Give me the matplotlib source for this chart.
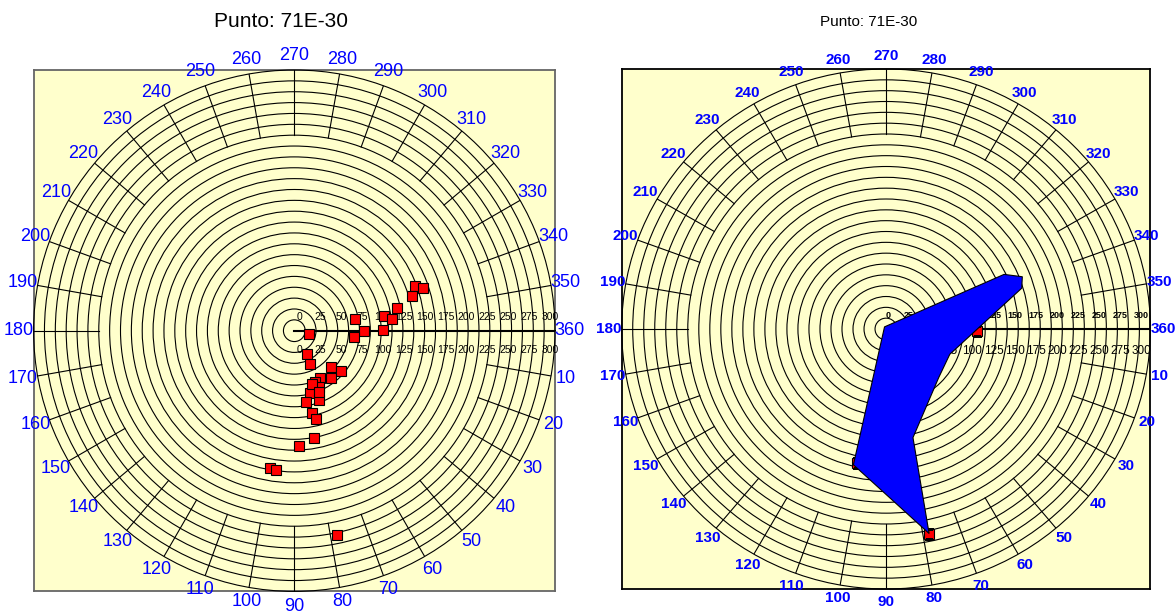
import numpy as np
import matplotlib
matplotlib.use('Agg')
import matplotlib.pyplot as plt

plt.rcParams['font.family'] = ['Liberation Sans', 'DejaVu Sans']

# ---- data ----
title = "Punto: 71E-30"
ring_step = 12.5
r_max = 300
r_ticks = [0, 25, 50, 75, 100, 125, 150, 175, 200, 225, 250, 275, 300]
angle_ticks = list(range(10, 361, 10))

# left chart: measured points (direction in degrees, value)
left_theta = [11.5, 349.4, 0.0, 5.7, 350.6, 353.1, 347.4, 359.7, 339.6, 341.8, 343.6,
              61.2, 64.8, 44.5, 41.3, 61.4, 52.4, 68.3, 66.2, 75.8, 70.2, 80.6,
              77.6, 76.4, 79.6, 87.5, 100.2, 97.3, 78.2, 71.7, 68.0]
left_r = [17, 71, 80, 69, 105, 113, 121, 102, 148, 156, 141,
          30, 42, 59, 71, 62, 69, 64, 71, 74, 85, 83,
          97, 105, 126, 133, 160, 162, 240, 64, 76]

# right chart: envelope polygon and the points left visible under it
poly_theta = [235, 334.8, 338.7, 343, 22, 43.3, 76.3, 78.3, 103.3]
poly_r = [3, 148, 166, 161, 78, 82, 129, 241, 161]
right_pts_theta = [1.3, 102.0, 78.3]
right_pts_r = [103, 158, 241]

yellow = '#FFFFCC'
blue = '#0000FF'

fig = plt.figure(figsize=(11.75, 6.14), dpi=100)
W, H = 1175, 614


def rect(x0, y0, x1, y1):
    return [x0 / W, 1 - y1 / H, (x1 - x0) / W, (y1 - y0) / H]


def make_polar(r, edge, circle=True):
    box = fig.add_axes(r)
    box.set_facecolor(yellow)
    box.set_xticks([])
    box.set_yticks([])
    for s in box.spines.values():
        s.set_color(edge)
        s.set_linewidth(1.3)
    ax = fig.add_axes(r, projection='polar', zorder=2)
    ax.patch.set_alpha(0)
    if not circle:
        ax.set_aspect('auto')
    ax.set_theta_zero_location('E')
    ax.set_theta_direction(-1)
    ax.set_ylim(0, r_max)
    ax.set_xticks([])
    ax.set_yticks(np.arange(ring_step, r_max, ring_step))
    ax.set_yticklabels([])
    ax.tick_params(axis='y', length=0)
    ax.yaxis.grid(True, color='black', linewidth=0.8)
    ax.spines['polar'].set_color('black')
    ax.spines['polar'].set_linewidth(0.8)
    # spokes only on the outer band, full line at 0
    for a in angle_ticks[:-1]:
        ax.plot([np.deg2rad(a)] * 2, [225, r_max], color='black', lw=0.8, zorder=1)
    ax.plot([0, 0], [0, r_max], color='black', lw=1.5, zorder=1)
    return ax


# ---------------- left ----------------
axl = make_polar(rect(33.6, 70, 555, 591.4), '#666666')
for a in angle_ticks:
    axl.text(np.deg2rad(a), 317, str(a), color=blue, fontsize=13,
             ha='center', va='center', clip_on=False)
for r in r_ticks:
    for dy in (14, -19):
        axl.annotate(str(r), xy=(0, r * 0.96 + 6), xytext=(0, dy),
                     textcoords='offset pixels', ha='center', va='center',
                     fontsize=7.5, color='black', zorder=3)
axl.plot(np.deg2rad(left_theta), left_r, 's', ms=7.5, mfc='red', mec='black',
         mew=0.8, zorder=5, clip_on=False)
fig.text(281 / W, 1 - 21.5 / H, title, fontsize=15, ha='center', va='center')

# ---------------- right ----------------
axr = make_polar(rect(621.7, 69, 1150.4, 589), 'black', circle=False)
for a in angle_ticks:
    axr.text(np.deg2rad(a), 315, str(a), color=blue, fontsize=11, fontweight='bold',
             ha='center', va='center', clip_on=False)
for r in r_ticks:
    axr.annotate(str(r), xy=(0, r * 0.96 + 2), xytext=(0, 14),
                 textcoords='offset pixels', ha='center', va='center',
                 fontsize=6.5, fontweight='bold', color='black', zorder=3)
    axr.annotate(str(r), xy=(0, r * 0.96 + 2), xytext=(0, -22),
                 textcoords='offset pixels', ha='center', va='center',
                 fontsize=8.5, color='black', zorder=3)
axr.plot(np.deg2rad(right_pts_theta), right_pts_r, 's', ms=7.5, mfc='red',
         mec='black', mew=0.8, zorder=4)
axr.fill(np.deg2rad(poly_theta), poly_r, facecolor=blue, edgecolor='black',
         lw=0.8, zorder=6)
fig.text(869 / W, 1 - 21.5 / H, title, fontsize=11, ha='center', va='center')

fig.savefig('out.png', dpi=100)
